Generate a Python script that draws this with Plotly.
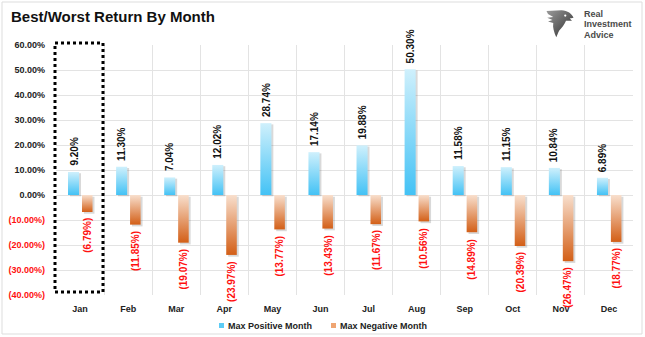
import plotly.graph_objects as go
import urllib.parse

months = ["Jan", "Feb", "Mar", "Apr", "May", "Jun", "Jul", "Aug", "Sep", "Oct", "Nov", "Dec"]
max_positive = [9.20, 11.30, 7.04, 12.02, 28.74, 17.14, 19.88, 50.30, 11.58, 11.15, 10.84, 6.89]
max_negative = [-6.79, -11.85, -19.07, -23.97, -13.77, -13.43, -11.67, -10.56, -14.89, -20.39, -26.47, -18.77]
y_ticks = [60, 50, 40, 30, 20, 10, 0, -10, -20, -30, -40]
series_names = ["Max Positive Month", "Max Negative Month"]

W, H = 645, 337
L, R, T, B = 56, 12, 45, 42
pw, ph = W - L - R, H - T - B


def px_x(p):
    return (p - L) / pw


def px_y(p):
    return (H - B - p) / ph


FONT = "Liberation Sans, Arial, sans-serif"

fig = go.Figure()

pos_off = (-0.25, -0.02)
neg_off = (0.04, 0.26)
sh_dx = 0.04


def rect(i, off, v, dx=0.0, dy=0.0):
    x0, x1 = i + off[0] + dx, i + off[1] + dx
    y0, y1 = 0 - dy, v - dy
    return [x0, x1, x1, x0, x0], [y0, y0, y1, y1, y0]


# soft shadows
for i, (p, n) in enumerate(zip(max_positive, max_negative)):
    for off, v in ((pos_off, p), (neg_off, n)):
        xs, ys = rect(i, off, v, sh_dx, 0.7 if v < 0 else 0.5)
        fig.add_trace(go.Scatter(x=xs, y=ys, fill="toself", mode="none",
                                 fillcolor="rgba(80,80,80,0.22)", showlegend=False,
                                 hoverinfo="skip"))

for i, p in enumerate(max_positive):
    xs, ys = rect(i, pos_off, p)
    fig.add_trace(go.Scatter(x=xs, y=ys, fill="toself", mode="none", showlegend=False,
                             fillgradient=dict(type="vertical",
                                               colorscale=[[0, "#43C2F5"], [1, "#CFF0FC"]]),
                             name=series_names[0]))
for i, n in enumerate(max_negative):
    xs, ys = rect(i, neg_off, n)
    fig.add_trace(go.Scatter(x=xs, y=ys, fill="toself", mode="none", showlegend=False,
                             fillgradient=dict(type="vertical",
                                               colorscale=[[0, "#D35F17"], [1, "#F8DFCD"]]),
                             name=series_names[1]))

# value labels
for i, (p, n) in enumerate(zip(max_positive, max_negative)):
    fig.add_annotation(x=i + (pos_off[0] + pos_off[1]) / 2, y=p, text=f"<b>{p:.2f}%</b>",
                       textangle=-90, showarrow=False, yanchor="bottom", xanchor="center",
                       yshift=4, font=dict(family=FONT, size=10, color="#111111"))
    fig.add_annotation(x=i + (neg_off[0] + neg_off[1]) / 2, y=n, text=f"<b>({abs(n):.2f}%)</b>",
                       textangle=-90, showarrow=False, yanchor="top", xanchor="center",
                       yshift=-4, font=dict(family=FONT, size=10, color="#FF1010"))

ticktext = []
for v in y_ticks:
    if v < 0:
        ticktext.append(f"<span style='color:#FF1010'><b>({abs(v):.2f}%)</b></span>")
    else:
        ticktext.append(f"<b>{v:.2f}%</b>")

fig.update_layout(
    width=W, height=H,
    margin=dict(l=L, r=R, t=T, b=B, autoexpand=False),
    paper_bgcolor="white", plot_bgcolor="white",
    font=dict(family=FONT, size=9, color="#222222"),
    showlegend=False,
    xaxis=dict(range=[-0.5, 11.5], tickmode="array", tickvals=list(range(12)),
               ticktext=[f"<b>{m}</b>" for m in months], showgrid=False, zeroline=False,
               showline=False, ticks="", ticklabelstandoff=7, automargin=False,
               tickfont=dict(family=FONT, size=9, color="#222222"),
               minor=dict(tickmode="linear", tick0=-0.5, dtick=1, showgrid=True,
                          gridcolor="#E3E3E3", gridwidth=1, ticks="")),
    yaxis=dict(range=[-40, 60], tickmode="array", tickvals=y_ticks, ticktext=ticktext,
               showgrid=True, gridcolor="#E3E3E3", gridwidth=1, zeroline=False,
               showline=False, ticks="", ticklabelstandoff=10, automargin=False,
               tickfont=dict(family=FONT, size=9, color="#222222")),
)

# legend (drawn manually)
legend_items = [(series_names[0], "#5CCCF6", 219), (series_names[1], "#EFA572", 331)]
for name, col, xp in legend_items:
    fig.add_shape(type="rect", xref="paper", yref="paper",
                  x0=px_x(xp), x1=px_x(xp + 5), y0=px_y(328), y1=px_y(323),
                  line=dict(width=0), fillcolor=col)
    fig.add_annotation(xref="paper", yref="paper", x=px_x(xp + 7), y=px_y(325.5),
                       xanchor="left", yanchor="middle", showarrow=False,
                       text=f"<b>{name}</b>", font=dict(family=FONT, size=9, color="#222222"))

# dotted highlight around January
fig.add_shape(type="rect", xref="paper", yref="paper",
              x0=px_x(55), x1=px_x(103), y0=px_y(292), y1=px_y(43),
              line=dict(color="black", width=3, dash="dot"))

# outer border
fig.add_shape(type="rect", xref="paper", yref="paper",
              x0=px_x(2), x1=px_x(642), y0=px_y(334), y1=px_y(2),
              line=dict(color="#DDDDDD", width=1))

# title
fig.add_annotation(xref="paper", yref="paper", x=px_x(9), y=px_y(17), xanchor="left",
                   yanchor="middle", showarrow=False,
                   text="<b>Best/Worst Return By Month</b>",
                   font=dict(family=FONT, size=15, color="#111111"))

# logo text
for k, word in enumerate(["Real", "Investment", "Advice"]):
    fig.add_annotation(xref="paper", yref="paper", x=px_x(582), y=px_y(14 + 10.5 * k),
                       xanchor="left", yanchor="middle", showarrow=False,
                       text=f"<b>{word}</b>",
                       font=dict(family=FONT, size=9, color="#4A4A4A"))

# logo emblem (simple eagle silhouette)
svg = ("<svg xmlns='http://www.w3.org/2000/svg' viewBox='0 0 40 40'>"
       "<defs><linearGradient id='g' x1='0' y1='0' x2='1' y2='1'>"
       "<stop offset='0' stop-color='#9a9a9a'/><stop offset='1' stop-color='#2e2e2e'/></linearGradient></defs>"
       "<path d='M2 4 L22 3 C30 3 36 8 38 13 L33 14 L36 17 L28 17 C26 22 22 27 19 30 "
       "C17 34 16 37 15 39 C12 32 10 26 11 20 L4 18 L10 16 L3 13 L11 12 L4 8 Z' fill='url(#g)'/>"
       "<circle cx='27' cy='10' r='1.5' fill='white'/></svg>")
fig.add_layout_image(source="data:image/svg+xml;utf8," + urllib.parse.quote(svg),
                     xref="paper", yref="paper", x=px_x(545), y=px_y(7),
                     sizex=30 / pw, sizey=32 / ph, xanchor="left", yanchor="top",
                     sizing="contain", layer="above")

fig.write_html("out.html")
